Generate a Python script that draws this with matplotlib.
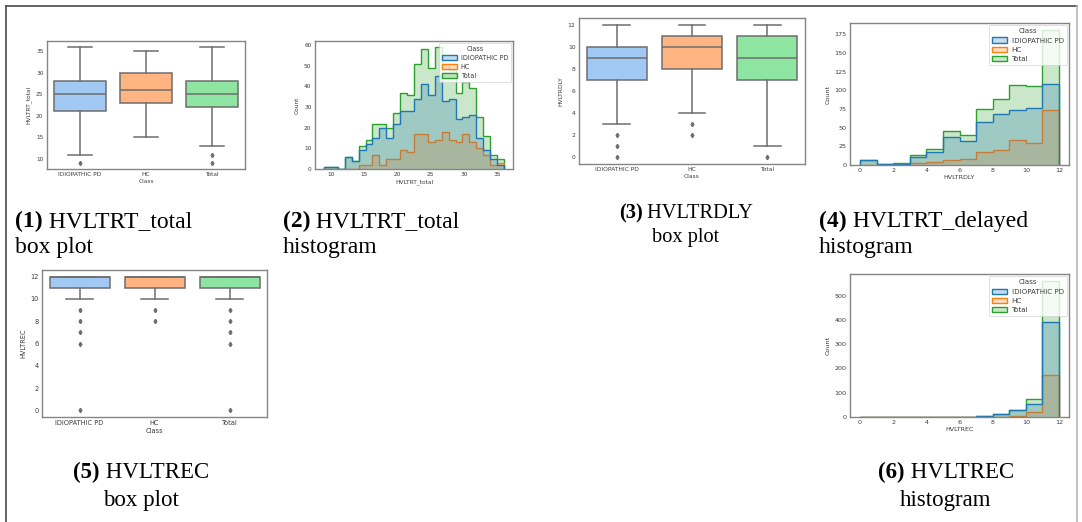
import numpy as np
import matplotlib
matplotlib.use('Agg')
import matplotlib.pyplot as plt
from matplotlib.colors import to_rgba
from matplotlib.patches import Patch
from matplotlib.lines import Line2D

classes = ['IDIOPATHIC PD', 'HC', 'Total']
box_colors = ['#a1c9f4', '#ffb482', '#8de5a1']
hist_colors = ['#1f77b4', '#ff7f0e', '#2ca02c']

# HVLTRT_total box plot summary (per class)
trt_whislo = [11, 15, 13]
trt_q1 = [21, 23, 22]
trt_med = [25, 26, 25]
trt_q3 = [28, 30, 28]
trt_whishi = [36, 35, 36]
trt_fliers = [[9], [], [11, 9]]

# HVLTRT_total histogram: 26 bins over 9..36
trt_range = (9, 36)
trt_nbins = 26
trt_pd = [1, 1, 0, 6, 4, 9, 12, 15, 20, 15, 22, 28, 28, 34, 41, 36, 45, 33, 34, 24, 25, 26, 15, 9, 5, 2]
trt_hc = [0, 0, 0, 0, 0, 2, 2, 7, 2, 5, 5, 9, 8, 17, 17, 13, 14, 18, 14, 13, 17, 13, 10, 7, 2, 3]
trt_all = [1, 1, 0, 6, 4, 11, 14, 22, 22, 20, 27, 37, 36, 51, 58, 49, 59, 51, 48, 37, 42, 39, 25, 16, 7, 5]

# HVLTRDLY box plot summary
dly_whislo = [3, 4, 1]
dly_q1 = [7, 8, 7]
dly_med = [9, 10, 9]
dly_q3 = [10, 11, 11]
dly_whishi = [12, 12, 12]
dly_fliers = [[2, 1, 0], [3, 2], [0]]

# HVLTRDLY histogram: unit bins over 0..12
dly_range = (0, 12)
dly_nbins = 12
dly_pd = [7, 1, 1, 11, 17, 38, 32, 57, 68, 74, 76, 108]
dly_hc = [0, 0, 2, 3, 4, 7, 8, 18, 20, 33, 30, 73]
dly_all = [7, 1, 3, 14, 21, 45, 40, 75, 88, 107, 106, 181]

# HVLTREC box plot summary
rec_whislo = [10, 10, 10]
rec_q1 = [11, 11, 11]
rec_med = [12, 12, 12]
rec_q3 = [12, 12, 12]
rec_whishi = [12, 12, 12]
rec_fliers = [[9, 8, 7, 6, 0], [9, 8], [9, 8, 7, 6, 0]]

# HVLTREC histogram: unit bins over 0..12
rec_range = (0, 12)
rec_nbins = 12
rec_pd = [2, 0, 0, 0, 0, 0, 2, 5, 11, 27, 53, 390]
rec_hc = [0, 0, 0, 0, 0, 0, 0, 0, 2, 3, 22, 171]
rec_all = [2, 0, 0, 0, 0, 0, 2, 5, 13, 30, 75, 561]

W, H = 1082, 522
fig = plt.figure(figsize=(W / 100, H / 100), dpi=100)
serif = 'Liberation Serif'
spine_col = '#858585'
tick_col = '#3c3c3c'
box_line = '#6e6e6e'


def place(x0, y0, x1, y1):
    return fig.add_axes([x0 / W, 1 - y1 / H, (x1 - x0) / W, (y1 - y0) / H])


def style(ax, fs):
    for s in ax.spines.values():
        s.set_color(spine_col)
        s.set_linewidth(1.0)
    ax.tick_params(length=0, pad=2.5, labelsize=fs, colors=tick_col)
    ax.set_facecolor('white')


def boxes(ax, whislo, q1, med, q3, whishi, fliers, ylabel, fs, yticks):
    stats = []
    for i in range(3):
        stats.append(dict(whislo=whislo[i], q1=q1[i], med=med[i], q3=q3[i],
                          whishi=whishi[i], fliers=fliers[i]))
    line = dict(color=box_line, linewidth=1.1)
    bp = ax.bxp(stats, positions=[0, 1, 2], widths=0.8, patch_artist=True,
                boxprops=dict(edgecolor=box_line, linewidth=1.1),
                whiskerprops=line, capprops=line, medianprops=line,
                flierprops=dict(marker='d', markersize=2.2, markerfacecolor=box_line,
                                markeredgecolor=box_line),
                capwidths=0.35)
    for patch, c in zip(bp['boxes'], box_colors):
        patch.set_facecolor(c)
    ax.set_xlim(-0.5, 2.5)
    ax.margins(y=0.05)
    ax.set_xticks([0, 1, 2])
    ax.set_xticklabels(classes)
    ax.set_yticks(yticks)
    ax.set_xlabel('Class', fontsize=fs, color=tick_col, labelpad=1)
    ax.set_ylabel(ylabel, fontsize=fs, color=tick_col, labelpad=3)
    style(ax, fs)


def hists(ax, rng, nbins, pd_counts, hc_counts, all_counts, xlabel, fs, lfs,
          xticks, yticks):
    edges = np.linspace(rng[0], rng[1], nbins + 1)
    series = [pd_counts, hc_counts, all_counts]
    # later classes sit underneath, first class on top
    for counts, c in list(zip(series, hist_colors))[::-1]:
        ax.stairs(counts, edges, fill=True, facecolor=to_rgba(c, 0.25),
                  edgecolor=c, linewidth=1.0)
    ax.margins(x=0.05, y=0.05)
    ax.set_ylim(bottom=0)
    ax.set_xticks(xticks)
    ax.set_yticks(yticks)
    ax.set_xlabel(xlabel, fontsize=fs, color=tick_col, labelpad=1)
    ax.set_ylabel('Count', fontsize=fs, color=tick_col, labelpad=3)
    handles = [Patch(facecolor=to_rgba(c, 0.25), edgecolor=c, linewidth=1.0)
               for c in hist_colors]
    leg = ax.legend(handles, classes, title='Class', loc='upper right', fontsize=lfs,
                    title_fontsize=lfs, frameon=True, borderaxespad=0.3,
                    handlelength=2.2, handleheight=0.75, labelspacing=0.45,
                    borderpad=0.45, handletextpad=0.6, fancybox=True)
    leg.get_frame().set_edgecolor('#d0d0d0')
    leg.get_frame().set_linewidth(0.6)
    for t in leg.get_texts():
        t.set_color(tick_col)
    leg.get_title().set_color(tick_col)
    style(ax, fs)


def caption(x, base1, base2, num, name, second, size, center=False):
    r = fig.canvas.get_renderer()
    t1 = fig.text(x / W, 1 - base1 / H, num, fontsize=size, fontweight='bold',
                  family=serif, va='baseline')
    w1 = t1.get_window_extent(r).width
    t2 = fig.text((x + w1) / W, 1 - base1 / H, ' ' + name, fontsize=size,
                  family=serif, va='baseline')
    fig.text(x / W, 1 - base2 / H, second, fontsize=size, family=serif,
             va='baseline', ha='center' if center else 'left')
    if center:
        w2 = t2.get_window_extent(r).width
        left = x - (w1 + w2) / 2
        t1.set_x(left / W)
        t2.set_x((left + w1) / W)


ax1 = place(47, 41, 245, 169)
boxes(ax1, trt_whislo, trt_q1, trt_med, trt_q3, trt_whishi, trt_fliers,
      'HVLTRT_total', 4.2, [10, 15, 20, 25, 30, 35])

ax2 = place(315, 41, 513, 169)
hists(ax2, trt_range, trt_nbins, trt_pd, trt_hc, trt_all, 'HVLTRT_total', 4.2, 4.7,
      [10, 15, 20, 25, 30, 35], [0, 10, 20, 30, 40, 50, 60])

ax3 = place(579, 18, 805, 164)
boxes(ax3, dly_whislo, dly_q1, dly_med, dly_q3, dly_whishi, dly_fliers,
      'HVLTRDLY', 4.3, [0, 2, 4, 6, 8, 10, 12])

ax4 = place(850, 23, 1069, 165)
hists(ax4, dly_range, dly_nbins, dly_pd, dly_hc, dly_all, 'HVLTRDLY', 4.6, 5.1,
      [0, 2, 4, 6, 8, 10, 12], [0, 25, 50, 75, 100, 125, 150, 175])

ax5 = place(42, 270, 267, 417)
boxes(ax5, rec_whislo, rec_q1, rec_med, rec_q3, rec_whishi, rec_fliers,
      'HVLTREC', 4.8, [0, 2, 4, 6, 8, 10, 12])

ax6 = place(850, 274, 1069, 417)
hists(ax6, rec_range, rec_nbins, rec_pd, rec_hc, rec_all, 'HVLTREC', 4.6, 5.1,
      [0, 2, 4, 6, 8, 10, 12], [0, 100, 200, 300, 400, 500])

caption(15, 227, 253, '(1)', 'HVLTRT_total', 'box plot', 17)
caption(283, 227, 253, '(2)', 'HVLTRT_total', 'histogram', 17)
caption(686, 218, 242, '(3)', 'HVLTRDLY', 'box plot', 14.7, center=True)
caption(819, 227, 253, '(4)', 'HVLTRT_delayed', 'histogram', 17)
caption(141, 478, 506, '(5)', 'HVLTREC', 'box plot', 16.5, center=True)
caption(946, 478, 506, '(6)', 'HVLTREC', 'histogram', 16.5, center=True)

# page frame around the panel group
for (xa, ya, xb, yb, c) in [(6, 6, 1077, 6, '#4a4a4a'), (6, 6, 6, 522, '#4a4a4a'),
                            (1077, 6, 1077, 522, '#b5b5b5')]:
    fig.add_artist(Line2D([xa / W, xb / W], [1 - ya / H, 1 - yb / H],
                          transform=fig.transFigure, color=c, linewidth=1.2))

fig.savefig('out.png', dpi=100)
